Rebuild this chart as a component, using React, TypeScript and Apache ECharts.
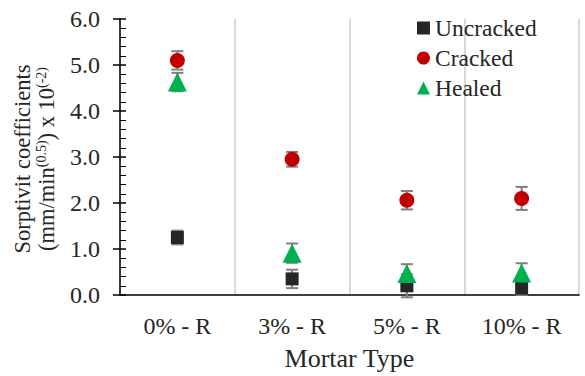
import React, { useEffect, useRef } from "react";
import * as echarts from "echarts";

const categories = ["0% - R", "3% - R", "5% - R", "10% - R"];
const uncracked = [1.25, 0.35, 0.2, 0.15];
const uncrackedErr = [0.15, 0.2, 0.25, 0.15];
const cracked = [5.1, 2.95, 2.06, 2.1];
const crackedErr = [0.2, 0.16, 0.2, 0.25];
const healed = [4.63, 0.91, 0.47, 0.48];
const healedErr = [0.2, 0.21, 0.2, 0.21];
const yTicks = [0, 1, 2, 3, 4, 5, 6];

const FONT = "'Liberation Serif', 'Times New Roman', serif";
const TEXT = "#262626";
const ERR = "#7f7f7f";

function errSeries(name: string, vals: number[], errs: number[]) {
  return {
    type: "custom",
    name: name + "-err",
    z: 1,
    silent: true,
    data: vals.map((v, i) => [i, v, errs[i]]),
    renderItem: (params: any, api: any) => {
      const i = api.value(0);
      const v = api.value(1);
      const e = api.value(2);
      const top = api.coord([i, v + e]);
      const bot = api.coord([i, v - e]);
      const hw = 6;
      const style = { stroke: ERR, lineWidth: 2 };
      return {
        type: "group",
        children: [
          { type: "line", shape: { x1: top[0], y1: top[1], x2: bot[0], y2: bot[1] }, style },
          { type: "line", shape: { x1: top[0] - hw, y1: top[1], x2: top[0] + hw, y2: top[1] }, style },
          { type: "line", shape: { x1: bot[0] - hw, y1: bot[1], x2: bot[0] + hw, y2: bot[1] }, style },
        ],
      };
    },
  };
}

export default function App() {
  const ref = useRef<HTMLDivElement>(null);
  useEffect(() => {
    if (!ref.current) return;
    document.body.style.margin = "0";
    const chart = echarts.init(ref.current, null, { renderer: "svg" });
    chart.setOption({
      animation: false,
      textStyle: { fontFamily: FONT },
      grid: { left: 120, right: 6, top: 19, bottom: 80 },
      legend: {
        orient: "vertical",
        left: 412,
        top: 11,
        itemGap: 6,
        itemWidth: 13,
        itemHeight: 13,
        textStyle: { fontFamily: FONT, fontSize: 23.5, color: TEXT },
        data: [
          { name: "Uncracked", icon: "rect", itemStyle: { color: "#262626" } },
          { name: "Cracked", icon: "circle" },
          { name: "Healed", icon: "triangle" },
        ],
      },
      xAxis: {
        type: "category",
        data: categories,
        boundaryGap: true,
        axisLine: { lineStyle: { color: "#000", width: 1.5 } },
        axisTick: { show: false },
        axisLabel: { fontFamily: FONT, fontSize: 24, color: TEXT, margin: 19 },
        splitLine: { show: true, lineStyle: { color: "#d9d9d9", width: 2 } },
        name: "Mortar Type",
        nameLocation: "middle",
        nameGap: 50,
        nameTextStyle: { fontFamily: FONT, fontSize: 26, color: TEXT },
      },
      yAxis: [
        {
          type: "value",
          min: yTicks[0],
          max: yTicks[yTicks.length - 1],
          interval: 1,
          axisLine: { show: true, lineStyle: { color: "#000", width: 1.5 } },
          axisTick: { show: true, inside: true, length: 6, lineStyle: { color: "#000", width: 1.5 } },
          minorTick: { show: true, splitNumber: 5, length: 6, lineStyle: { color: "#000", width: 1 } },
          axisLabel: {
            fontFamily: FONT,
            fontSize: 24,
            color: TEXT,
            margin: 20,
            formatter: (v: number) => v.toFixed(1),
          },
          splitLine: { show: false },
        },
        {
          type: "value",
          position: "left",
          min: yTicks[0],
          max: yTicks[yTicks.length - 1],
          interval: 1,
          axisLine: { show: false },
          axisTick: { show: true, inside: false, length: 7, lineStyle: { color: "#000", width: 1.5 } },
          axisLabel: { show: false },
          splitLine: { show: false },
        },
      ],
      graphic: [
        {
          type: "text",
          x: 34,
          y: 159,
          rotation: Math.PI / 2,
          style: {
            text: "{a|Sorptivit coefficients}\n{a|(mm/min}{s|(0.5)}{a|) x 10}{s|(-2)}",
            align: "center",
            verticalAlign: "middle",
            fill: TEXT,
            rich: {
              a: { fontFamily: FONT, fontSize: 22.5, lineHeight: 24, fill: TEXT },
              s: { fontFamily: FONT, fontSize: 14, lineHeight: 24, verticalAlign: "top", fill: TEXT },
            },
          },
        },
      ],
      series: [
        errSeries("Uncracked", uncracked, uncrackedErr),
        errSeries("Cracked", cracked, crackedErr),
        errSeries("Healed", healed, healedErr),
        {
          type: "scatter",
          name: "Uncracked",
          symbol: "rect",
          symbolSize: 13,
          z: 3,
          itemStyle: { color: "#262626", opacity: 1 },
          data: uncracked,
        },
        {
          type: "scatter",
          name: "Cracked",
          symbol: "circle",
          symbolSize: 15,
          z: 3,
          itemStyle: { color: "#c00000", opacity: 1 },
          data: cracked,
        },
        {
          type: "scatter",
          name: "Healed",
          symbol: "triangle",
          symbolSize: [19, 19],
          z: 4,
          itemStyle: { color: "#00b050", opacity: 1 },
          data: healed,
        },
      ],
    });
    return () => chart.dispose();
  }, []);
  return <div ref={ref} style={{ width: 585, height: 376 }} />;
}
